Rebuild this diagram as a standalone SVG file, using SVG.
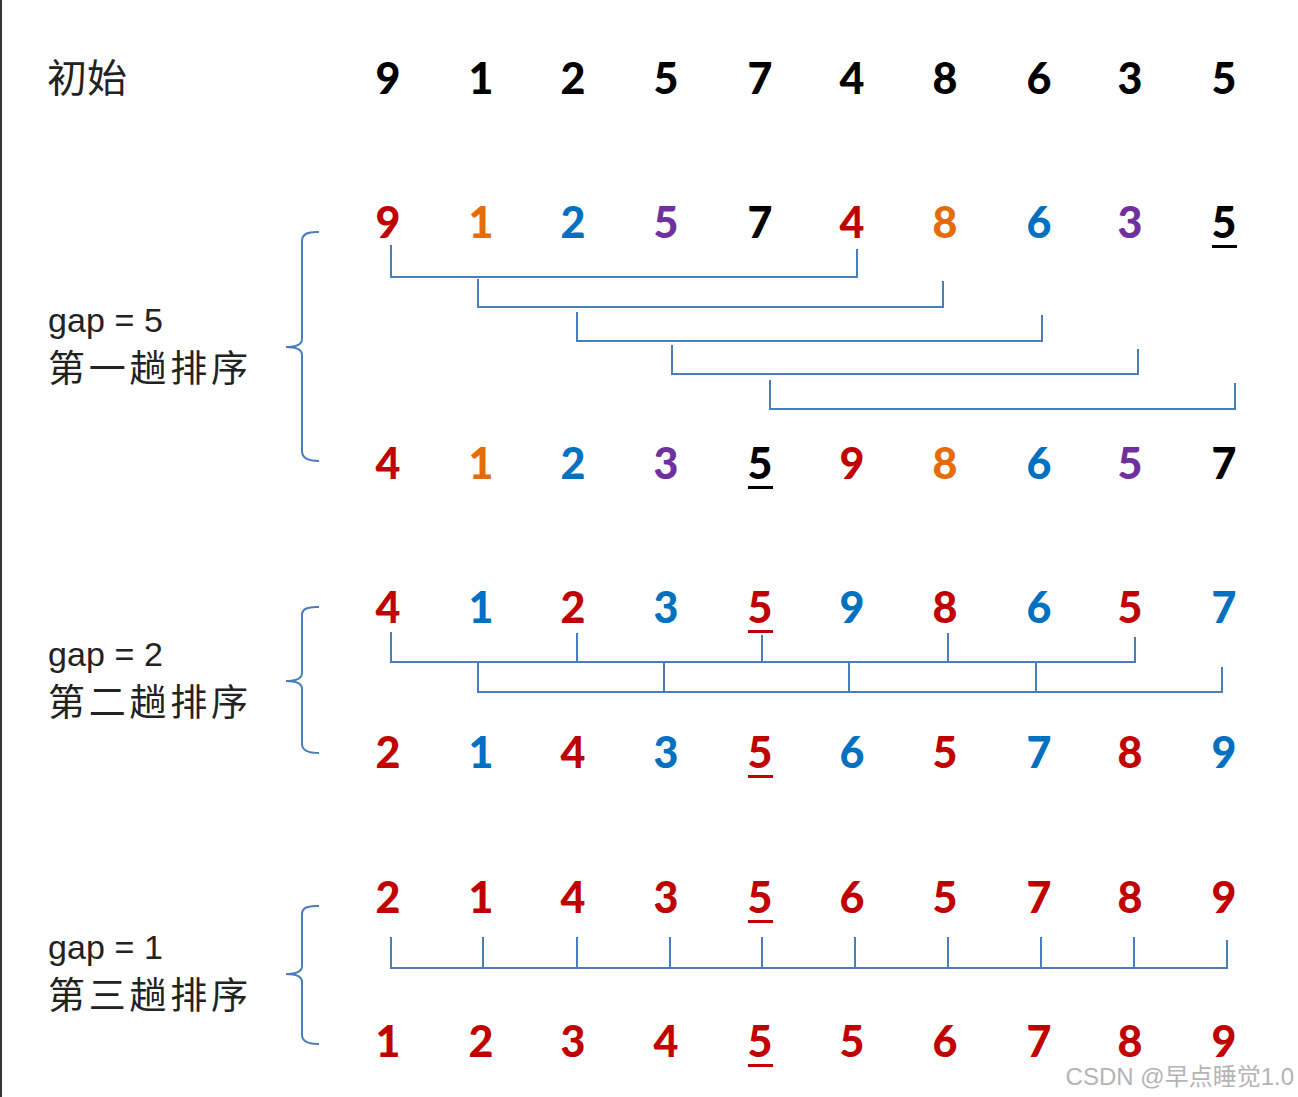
<svg xmlns="http://www.w3.org/2000/svg" width="1298" height="1097" viewBox="0 0 1298 1097">
<style>
.n{font-family:Lato,"Open Sans","Liberation Sans",sans-serif;font-weight:900;font-size:43px;text-anchor:middle}
.r{fill:#c00000}.o{fill:#e46c0a}.b{fill:#0070c0}.p{fill:#7030a0}.k{fill:#000}
.lbl{font-family:"Liberation Sans","Noto Sans CJK SC",sans-serif;fill:#222}
.cj{font-family:"Noto Sans CJK SC","Liberation Sans",sans-serif;font-size:37px;fill:#222}
.ln{fill:none;stroke:#4a7ebb;stroke-width:2}
.ur{fill:#c00000}.uk{fill:#000}
</style>
<rect width="1298" height="1097" fill="#fff"/>
<line x1="1" y1="0" x2="1" y2="1097" stroke="#333" stroke-width="2"/>

<g id="labels">
<text class="cj" x="47" y="92" style="font-size:39px" textLength="80" lengthAdjust="spacingAndGlyphs">初始</text>
<text class="lbl" x="48" y="332" font-size="34" textLength="115" lengthAdjust="spacing">gap = 5</text>
<text class="cj" x="48" y="382" textLength="200" lengthAdjust="spacing">第一趟排序</text>
<text class="lbl" x="48" y="666" font-size="34" textLength="115" lengthAdjust="spacing">gap = 2</text>
<text class="cj" x="48" y="716" textLength="200" lengthAdjust="spacing">第二趟排序</text>
<text class="lbl" x="48" y="959" font-size="34" textLength="115" lengthAdjust="spacing">gap = 1</text>
<text class="cj" x="48" y="1009" textLength="200" lengthAdjust="spacing">第三趟排序</text>
</g>

<g id="row0" class="n k">
<text x="388" y="94">9</text><text x="481" y="94">1</text><text x="573" y="94">2</text><text x="666" y="94">5</text><text x="760" y="94">7</text><text x="852" y="94">4</text><text x="945" y="94">8</text><text x="1039" y="94">6</text><text x="1130" y="94">3</text><text x="1224" y="94">5</text>
</g>

<g id="row1" class="n">
<text class="r" x="388" y="238">9</text><text class="o" x="481" y="238">1</text><text class="b" x="573" y="238">2</text><text class="p" x="666" y="238">5</text><text class="k" x="760" y="238">7</text><text class="r" x="852" y="238">4</text><text class="o" x="945" y="238">8</text><text class="b" x="1039" y="238">6</text><text class="p" x="1130" y="238">3</text><text class="k" x="1224" y="238">5</text>
</g>
<rect class="uk" x="1212" y="245" width="25" height="3"/>

<g id="row2" class="n">
<text class="r" x="388" y="479">4</text><text class="o" x="481" y="479">1</text><text class="b" x="573" y="479">2</text><text class="p" x="666" y="479">3</text><text class="k" x="760" y="479">5</text><text class="r" x="852" y="479">9</text><text class="o" x="945" y="479">8</text><text class="b" x="1039" y="479">6</text><text class="p" x="1130" y="479">5</text><text class="k" x="1224" y="479">7</text>
</g>
<rect class="uk" x="748" y="486" width="25" height="3"/>

<g id="row3" class="n">
<text class="r" x="388" y="623">4</text><text class="b" x="481" y="623">1</text><text class="r" x="573" y="623">2</text><text class="b" x="666" y="623">3</text><text class="r" x="760" y="623">5</text><text class="b" x="852" y="623">9</text><text class="r" x="945" y="623">8</text><text class="b" x="1039" y="623">6</text><text class="r" x="1130" y="623">5</text><text class="b" x="1224" y="623">7</text>
</g>
<rect class="ur" x="748" y="630" width="25" height="3"/>

<g id="row4" class="n">
<text class="r" x="388" y="768">2</text><text class="b" x="481" y="768">1</text><text class="r" x="573" y="768">4</text><text class="b" x="666" y="768">3</text><text class="r" x="760" y="768">5</text><text class="b" x="852" y="768">6</text><text class="r" x="945" y="768">5</text><text class="b" x="1039" y="768">7</text><text class="r" x="1130" y="768">8</text><text class="b" x="1224" y="768">9</text>
</g>
<rect class="ur" x="748" y="775" width="25" height="3"/>

<g id="row5" class="n r">
<text x="388" y="913">2</text><text x="481" y="913">1</text><text x="573" y="913">4</text><text x="666" y="913">3</text><text x="760" y="913">5</text><text x="852" y="913">6</text><text x="945" y="913">5</text><text x="1039" y="913">7</text><text x="1130" y="913">8</text><text x="1224" y="913">9</text>
</g>
<rect class="ur" x="748" y="920" width="25" height="3"/>

<g id="row6" class="n r">
<text x="388" y="1057">1</text><text x="481" y="1057">2</text><text x="573" y="1057">3</text><text x="666" y="1057">4</text><text x="760" y="1057">5</text><text x="852" y="1057">5</text><text x="945" y="1057">6</text><text x="1039" y="1057">7</text><text x="1130" y="1057">8</text><text x="1224" y="1057">9</text>
</g>
<rect class="ur" x="748" y="1064" width="25" height="3"/>

<g id="braces" class="ln">
<path d="M319,232 Q302,231 302,241 L302,339 Q302,347 286,347 Q302,347 302,355 L302,451 Q302,461 319,461"/>
<path d="M319,607 Q302,606 302,615 L302,673 Q302,681 286,681 Q302,681 302,689 L302,744 Q302,753 319,753"/>
<path d="M319,906 Q302,905 302,914 L302,966 Q302,974 286,974 Q302,974 302,982 L302,1035 Q302,1044 319,1044"/>
</g>

<g id="connectors" class="ln">
<path d="M391,245 V277 H857 V249"/>
<path d="M478,279 V307 H943 V281"/>
<path d="M577,312 V341 H1042 V315"/>
<path d="M672,345 V374 H1138 V349"/>
<path d="M770,380 V409 H1235 V383"/>

<path d="M391,632 V662 H1135 V637"/>
<path d="M577,633 V662 M762,635 V662 M948,633 V662"/>
<path d="M478,663 V692 H1222 V667"/>
<path d="M664,663 V692 M849,663 V692 M1036,663 V692"/>

<path d="M391,937 V968 H1227 V940"/>
<path d="M483,937 V968 M577,937 V968 M670,937 V968 M762,937 V968 M855,937 V968 M948,937 V968 M1041,937 V968 M1134,937 V968"/>
</g>

<text x="1294" y="1085" text-anchor="end" font-family="'Liberation Sans','Noto Sans CJK SC',sans-serif" font-size="24" fill="#b4b4b4">CSDN @早点睡觉1.0</text>
</svg>
